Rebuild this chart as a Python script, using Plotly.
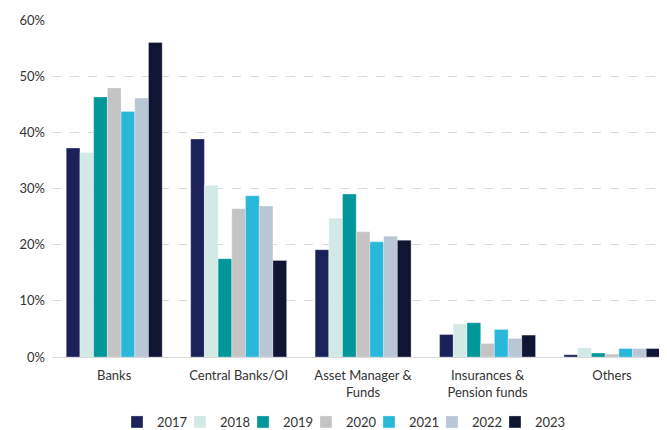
import plotly.graph_objects as go

categories = ["Banks", "Central Banks/OI", "Asset Manager &<br>Funds",
              "Insurances &<br>Pension funds", "Others"]
years = ["2017", "2018", "2019", "2020", "2021", "2022", "2023"]
v2017 = [37.2, 38.8, 19.1, 4.0, 0.4]
v2018 = [36.4, 30.6, 24.7, 5.9, 1.6]
v2019 = [46.3, 17.5, 29.0, 6.1, 0.7]
v2020 = [47.9, 26.4, 22.3, 2.4, 0.5]
v2021 = [43.7, 28.7, 20.5, 4.9, 1.5]
v2022 = [46.1, 26.9, 21.5, 3.3, 1.5]
v2023 = [56.0, 17.2, 20.8, 3.9, 1.5]
series = [v2017, v2018, v2019, v2020, v2021, v2022, v2023]
colors = ["#1B2259", "#D3E9E5", "#00979A", "#C4C4C4", "#29B8DA", "#B8C6D6", "#111534"]

fig = go.Figure()
for yr, vals, col in zip(years, series, colors):
    fig.add_trace(go.Bar(
        name=yr, x=categories, y=[v / 100 for v in vals],
        marker=dict(color=col, line=dict(color="rgba(255,255,255,0.6)", width=0.5)),
    ))
# invisible spacer legend entry (not a bar, so grouping is unaffected)
# so the last legend label is not clipped
fig.add_trace(go.Scatter(name=" ", x=[None], y=[None], mode="markers",
                         marker=dict(color="rgba(0,0,0,0)", line=dict(width=0)),
                         hoverinfo="skip"))

# page body has an 8px default margin, so the figure is offset by (8, 8)
fig.update_layout(
    width=659, height=422,
    margin=dict(l=44, r=2, t=12, b=73, autoexpand=False),
    barmode="group", bargap=0.229, bargroupgap=0,
    paper_bgcolor="white", plot_bgcolor="white",
    font=dict(family="Lato, 'Open Sans', sans-serif", size=13, color="#333333"),
    legend=dict(orientation="h", x=0.106, xanchor="left", y=-65 / 337, yanchor="middle",
                font=dict(size=13, color="#333333"), itemwidth=30,
                entrywidth=18, entrywidthmode="pixels",
                traceorder="normal", bgcolor="rgba(0,0,0,0)"),
    xaxis=dict(range=[-0.5, 4.426], showline=True, linecolor="#D9D9D9", linewidth=1,
               ticks="", showgrid=False, tickfont=dict(size=13), automargin=False,
               ticklabelstandoff=6),
    yaxis=dict(range=[0, 0.6], tickvals=[0, 0.1, 0.2, 0.3, 0.4, 0.5, 0.6],
               tickformat=".0%", showgrid=True, gridcolor="#D9D9D9", griddash="dash",
               gridwidth=1, zeroline=False, showline=False, ticks="",
               tickfont=dict(size=13), automargin=False, ticklabelstandoff=6),
)

fig.write_html("out.html")
